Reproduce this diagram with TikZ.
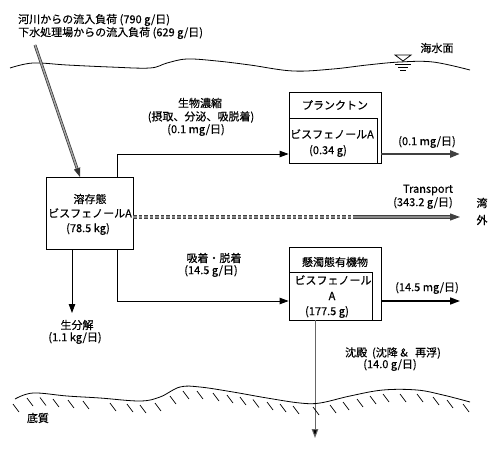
\documentclass[tikz,border=0pt]{standalone}
\usepackage{fontspec}
\setmainfont{Noto Sans CJK JP}[FakeBold=0.4]
\usetikzlibrary{arrows.meta}
\begin{document}
\begin{tikzpicture}[x=1pt,y=-1pt,
  every node/.style={font=\fontsize{11}{13}\selectfont, inner sep=0pt},
  lbl/.style={align=center},
  tip/.style={-{Triangle[length=9pt,width=6.5pt]}},
  bigtip/.style={-{Triangle[length=10pt,width=7pt]}},
  thin/.style={line width=0.8pt},
  dbl/.style={draw=black!80, line width=0.7pt, double=black!35, double distance=1.4pt},
  tdbl/.style={draw=black!75, line width=1pt, double=black!45, double distance=1.6pt},
  wave/.style={line width=0.8pt},
  hatch/.style={line width=0.7pt}]
\useasboundingbox (0,0) rectangle (500,460);

% top texts
\node[anchor=west] (t1) at (18,20) {河川からの流入負荷 (790 g/日)};
\node[anchor=west] (t2) at (18,33) {下水処理場からの流入負荷 (629 g/日)};

% water surface
\draw[wave] plot[smooth, tension=0.6] coordinates {(10,68) (33,63) (67,65) (110,67) (150,68) (167,63) (187,59) (217,61) (250,65) (293,71) (333,69) (367,65) (400,62) (433,62) (470,70)};
\draw[thin] (395,55) -- (411,55) -- (403,61) -- cycle;
\draw[thin] (395,64) -- (411,64);
\draw[thin] (398,67) -- (408,67);
\draw[thin] (400,70) -- (406,70);
\node (sea) at (437,48) {海水面};

% boxes
\node[draw, line width=0.8pt, minimum width=87pt, minimum height=72pt] (diss) at (89.5,213) {};
\node (d1) at (90,199) {溶存態};
\node (d2) at (90,213) {ビスフェノールA};
\node (d3) at (88,229) {(78.5 kg)};

\node[draw, line width=0.8pt, minimum width=92pt, minimum height=71pt] (pout) at (335,127.5) {};
\node[draw, line width=0.8pt, minimum width=88pt, minimum height=45pt, anchor=south west] (pin) at (pout.south west) {};
\node (p1) at (335,105) {プランクトン};
\node (p2) at (332,134) {ビスフェノールA};
\node (p3) at (328,151) {(0.34 g)};

\node[draw, line width=0.8pt, minimum width=92pt, minimum height=73pt] (sout) at (335,283.5) {};
\node[draw, line width=0.8pt, minimum width=83pt, minimum height=48pt, anchor=south west] (sin) at (sout.south west) {};
\node (s1) at (335,262) {懸濁態有機物};
\node (s2) at (333,280) {ビスフェノール};
\node (s3) at (332,296) {A};
\node (s4) at (327,312) {(177.5 g)};

% coordinates
\coordinate (i0) at (35,45);
\coordinate (i1) at (80,177);
\coordinate (j1) at (117,154);
\coordinate (j2) at (117,301);
\coordinate (e1) at (460,154);
\coordinate (e2) at (460,301);
\coordinate (tr0) at (133,217);
\coordinate (tr1) at (357,217);
\coordinate (tr2) at (460,217);
\coordinate (b1) at (72,313);
\coordinate (sd) at (315,438);

% connectors
\draw[dbl, tip] (i0) -- (i1);
\draw[thin, tip] (diss.north -| j1) |- (pout.west |- j1);
\draw[thin, tip] (diss.south -| j2) |- (sout.west |- j2);
\draw[line width=2.6pt, draw=black!75, bigtip] (pout.east |- e1) -- (e1);
\draw[line width=1.6pt, bigtip] (sout.east |- e2) -- (e2);
\draw[tdbl, dash pattern=on 3.5pt off 2pt] (diss.east |- tr0) -- (tr1);
\draw[tdbl, bigtip] (tr1) -- (tr2);
\draw[thin, tip] (diss.south -| b1) -- (b1);
\draw[line width=1pt, draw=black!60, -{Triangle[length=9pt,width=6.5pt,fill=black]}] (sout.south -| sd) -- (sd);

% labels
\node[lbl] (l1) at (200,103) {生物濃縮};
\node[lbl] (l2) at (201,117) {(摂取、分泌、吸脱着)};
\node[lbl] (l3) at (196,130) {(0.1 mg/日)};
\node (l4) at (427,142) {(0.1 mg/日)};
\node (l5) at (428,190) {Transport};
\node (l6) at (423,203) {(343.2 g/日)};
\node (w1) at (482,203) {湾};
\node (w2) at (482,220) {外};
\node (l7) at (214,258) {吸着・脱着};
\node (l8) at (211,271) {(14.5 g/日)};
\node (l9) at (427,288) {(14.5 mg/日)};
\node (l10) at (77,325) {生分解};
\node (l11) at (75,338) {(1.1 kg/日)};
\node (l12) at (393,353) {沈殿\ \ (沈降 \&\ \ \ 再浮)};
\node (l13) at (390,365) {(14.0 g/日)};
\node (bed) at (38,418) {底質};

% sediment surface
\draw[wave] plot[smooth, tension=0.6] coordinates {(15,399) (33,393) (67,396) (100,398) (140,401) (160,397) (180,387) (200,387) (233,392) (267,398) (300,403) (320,403) (350,396) (383,390) (417,390) (443,395) (470,402)};
\foreach \x/\y in {13/400,27/394,40/393.5,53/395,68/396,83/397,110/399,127/400,140/401,155/399,170/392,183/387,197/387,213/389,227/391,240/393,253/395.5,267/398,280/400,293/402,313/403,330/401,343/398,357/395,370/392,383/390,400/390,417/390,433/393,447/396,463/400}
  \draw[hatch] (\x,\y+4) -- ++(6,8);
\end{tikzpicture}
\end{document}
